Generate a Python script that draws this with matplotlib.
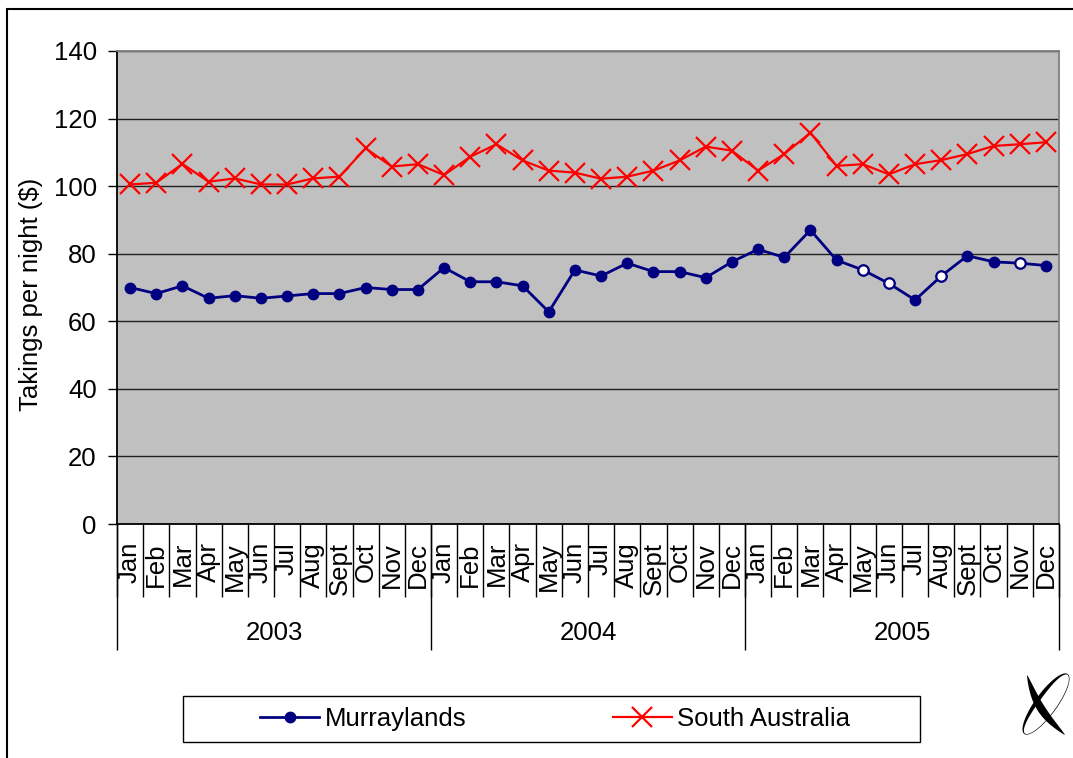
import numpy as np
import matplotlib
matplotlib.use('Agg')
import matplotlib.pyplot as plt
from matplotlib.patches import Rectangle, Polygon, PathPatch
from matplotlib.path import Path

plt.rcParams['font.family'] = ['Liberation Sans', 'DejaVu Sans']
FS = 18.5

# monthly takings per night, Jan 2003 - Dec 2005
years = ['2003', '2004', '2005']
months = ['Jan', 'Feb', 'Mar', 'Apr', 'May', 'Jun', 'Jul', 'Aug', 'Sept', 'Oct', 'Nov', 'Dec']

murraylands = [70.0, 68.2, 70.5, 66.8, 67.6, 66.8, 67.5, 68.2, 68.2, 70.0, 69.4, 69.4,
               75.9, 71.7, 71.7, 70.5, 62.8, 75.2, 73.4, 77.2, 74.7, 74.7, 72.9, 77.6,
               81.3, 78.9, 87.0, 78.1, 75.2, 71.2, 66.3, 73.4, 79.4, 77.6, 77.2, 76.5]
south_australia = [100.5, 101.0, 106.6, 101.3, 102.3, 100.5, 100.5, 102.3, 102.8, 111.2, 105.8, 106.5,
                   103.3, 108.7, 112.4, 107.6, 104.6, 104.0, 102.2, 102.8, 104.6, 107.6, 111.7, 110.5,
                   104.6, 109.5, 115.8, 106.0, 106.5, 103.5, 106.5, 107.7, 109.5, 111.9, 112.4, 113.0]
# Murraylands months drawn with hollow markers (2005 May, Jun, Aug, Nov)
murraylands_hollow = [28, 29, 31, 34]

W, H = 1073, 758
fig = plt.figure(figsize=(W / 100, H / 100), dpi=100)
ax = fig.add_axes([117 / W, 1 - 524 / H, (1059 - 117) / W, (524 - 51) / H])
ax.set_facecolor('#C0C0C0')

n = len(murraylands)
x = np.arange(n) + 0.5

ax.plot(x, murraylands, color='#000080', lw=2, marker='o', ms=7.5,
        mfc='#000080', mec='#000080', label='Murraylands', zorder=3)
hx = x[murraylands_hollow]
hy = [murraylands[i] for i in murraylands_hollow]
ax.plot(hx, hy, ls='none', marker='o', ms=7.5, mfc='white', mec='#000080', mew=1.6, zorder=4)
ax.plot(x, south_australia, color='#FF0000', lw=1.6, marker='x', ms=14, mew=1.6,
        label='South Australia', zorder=3)

ax.set_xlim(0, n)
ax.set_ylim(0, 140)
ax.set_yticks(range(0, 141, 20))
ax.yaxis.grid(True, color='#202020', lw=1)
ax.set_axisbelow(True)
ax.tick_params(axis='y', direction='out', length=6.5, width=1, pad=8, labelsize=FS)

ax.set_xticks(x, months * len(years), rotation=90)
ax.tick_params(axis='x', which='major', length=0, pad=13, labelsize=FS)
ax.set_xticks(np.arange(n + 1), minor=True)
ax.tick_params(axis='x', which='minor', direction='out', length=52.5, width=1, color='black')

for side in ['left', 'bottom']:
    ax.spines[side].set_color('black')
    ax.spines[side].set_linewidth(1.3)
for side in ['top', 'right']:
    ax.spines[side].set_color('#808080')
    ax.spines[side].set_linewidth(1.3)

# year groups under the month labels
xt = ax.get_xaxis_transform()
ax.vlines(np.arange(0, n + 1, 12), -0.2664, 0, transform=xt, colors='black', lw=1, clip_on=False)
for k, yr in enumerate(years):
    ax.text(12 * k + 6, -0.2304, yr, transform=xt, ha='center', va='center', fontsize=FS)

fig.text(31 / W, 1 - 294 / H, 'Takings per night ($)', rotation=90,
         ha='center', va='center', fontsize=FS)

# legend with its own box
fig.legend(loc='center', bbox_to_anchor=(555 / W, 1 - 719 / H), ncol=2, frameon=False,
           fontsize=FS, handlelength=2.3, handletextpad=0.2, columnspacing=5.7)
fig.patches.append(Rectangle((183 / W, 1 - 742 / H), (920 - 183) / W, 46 / H,
                             transform=fig.transFigure, fill=False, ec='black', lw=1))

# outer frame (left and top edges visible)
fig.patches.append(Rectangle((7 / W, -0.05), 1.2, 1 - 9 / H + 0.05,
                             transform=fig.transFigure, fill=False, ec='black', lw=1.5))


# small emblem, bottom right, drawn in pixel units
def swoosh(p0, p1, bulge, thick, num=60):
    p0 = np.array(p0, float)
    p1 = np.array(p1, float)
    s = np.linspace(0, 1, num)
    d = p1 - p0
    u = d / np.hypot(*d)
    nrm = np.array([-u[1], u[0]])
    c = p0 + s[:, None] * d + (bulge * np.sin(np.pi * s))[:, None] * nrm
    half = 0.5 * thick * np.sin(np.pi * s) ** 0.8
    return np.vstack([c + half[:, None] * nrm, (c - half[:, None] * nrm)[::-1]])


def ring(c, a, b, ang, wmin, wmax, num=120):
    c = np.array(c, float)
    u = np.array([np.cos(ang), -np.sin(ang)])
    v = np.array([np.sin(ang), np.cos(ang)])
    t = np.linspace(0, 2 * np.pi, num)
    w = wmin + (wmax - wmin) * np.clip(-np.sin(t), 0, None)
    outer = c + (a * np.cos(t))[:, None] * u + (b * np.sin(t))[:, None] * v
    inner = c + ((a - w) * np.cos(t))[:, None] * u + ((b - w) * np.sin(t))[:, None] * v
    verts = np.vstack([outer, inner[::-1]])
    codes = ([Path.MOVETO] + [Path.LINETO] * (num - 1)) * 2
    return Path(verts, codes)


lg = fig.add_axes([1010 / W, 1 - 755 / H, 63 / W, 90 / H])
lg.set_xlim(1010, 1073)
lg.set_ylim(755, 665)
lg.axis('off')
lg.add_patch(PathPatch(ring((1046, 704), 37, 11, np.radians(54), 0.7, 4.0), fc='black', ec='none'))
lg.add_patch(Polygon(swoosh((1027, 675), (1065, 735), 6, 8), closed=True, fc='black', ec='none'))

fig.savefig('out.png', dpi=100)
